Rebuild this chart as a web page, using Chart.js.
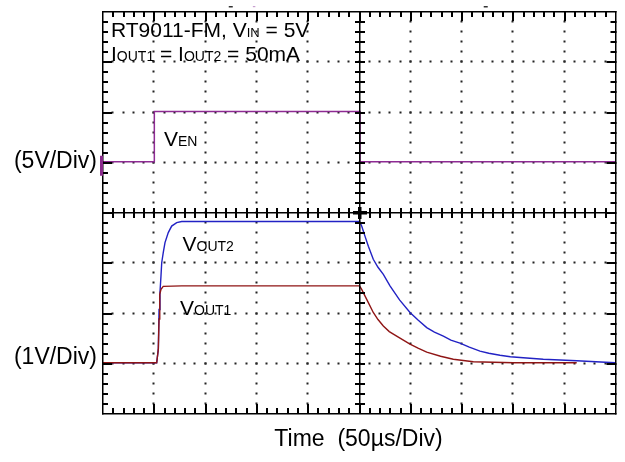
<!DOCTYPE html>
<html>
<head>
<meta charset="utf-8">
<script src="https://cdn.jsdelivr.net/npm/chart.js@4.4.0/dist/chart.umd.min.js"></script>
<style>
html,body{margin:0;padding:0;background:#fff;}
#wrap{width:625px;height:462px;position:relative;}
</style>
</head>
<body>
<div id="wrap"><canvas id="c"></canvas></div>
<script>
// ---- data read from the scope capture ----
// time axis in microseconds (50 us/div, 10 divisions)
const timeMaxUs = 500;
const usPerDiv = 50;
const vertDivs = 8;

// V_EN channel: 5 V/div, ground at division 5
const venTime = [0, 51.0, 51.0, 251.5, 251.5, 500];
const venVolt = [0, 0, 5.0, 5.0, 0, 0];

// V_OUT2 channel: 1 V/div, ground at division 1
const vout2Time = [0, 53.3, 54.9, 55.6, 56.5, 57.5, 58.2, 59.7, 61.4, 64.6, 67.9, 72.8, 77.7,
  251.0, 253.1, 256.3, 259.6, 264.4, 269.0, 274.2, 280.7, 290.0, 300.2, 308.0, 316.5, 324.0, 332.7,
  340.0, 348.9, 358.0, 368.4, 377.0, 387.9, 398.0, 410.6, 430.1, 462.7, 500];
const vout2Volt = [0, 0, 0.27, 1.06, 1.40, 1.73, 1.99, 2.19, 2.39, 2.59, 2.72, 2.79, 2.81,
  2.81, 2.72, 2.52, 2.32, 2.06, 1.90, 1.76, 1.53, 1.25, 1.00, 0.85, 0.70, 0.61, 0.53,
  0.45, 0.39, 0.31, 0.23, 0.19, 0.15, 0.12, 0.10, 0.07, 0.04, 0.0];

// V_OUT1 channel: 1 V/div, ground at division 1
const vout1Time = [0, 53.3, 54.9, 55.6, 56.1, 56.5, 57.5, 59.7, 77.7,
  251.0, 253.1, 258.0, 264.4, 269.0, 274.2, 280.0, 287.2, 300.2, 308.0, 316.5, 330.0, 342.4, 361.9, 400.9, 462.7];
const vout1Volt = [0, 0, 0.27, 0.87, 1.26, 1.36, 1.46, 1.52, 1.53,
  1.53, 1.46, 1.26, 1.00, 0.86, 0.73, 0.62, 0.53, 0.37, 0.29, 0.21, 0.13, 0.07, 0.02, 0.0, 0.0];

const venVoltsPerDiv = 5, venGroundDiv = 5;
const voutVoltsPerDiv = 1, voutGroundDiv = 1;

const yTickLabels = {5: '(5V/Div)', 1.1: '(1V/Div)'};
const xTitle = 'Time  (50\u00B5s/Div)';

// ---- build datasets ----
const toPts = (ts, vs, perDiv, gnd) => ts.map((t, i) => ({x: t, y: vs[i] / perDiv + gnd}));

const FONT = '"Liberation Sans", Arial, Helvetica, sans-serif';

const graticule = {
  id: 'graticule',
  beforeDatasetsDraw(chart) {
    const {ctx, chartArea: a, scales: {x, y}} = chart;
    ctx.save();
    const px = v => x.getPixelForValue(v);
    const py = v => y.getPixelForValue(v);
    const hx = timeMaxUs / usPerDiv, minor = 5;
    // dotted grid
    ctx.fillStyle = '#222';
    for (let i = 1; i < hx; i++) {
      if (i === hx / 2) continue;
      const X = Math.round(px(i * usPerDiv));
      for (let k = 1; k < vertDivs * minor; k++) {
        const Y = Math.round(py(k / minor));
        ctx.fillRect(X - 0.5, Y - 0.5, 2, 2);
      }
    }
    for (let j = 1; j < vertDivs; j++) {
      if (j === vertDivs / 2) continue;
      const Y = Math.round(py(j));
      for (let k = 1; k < hx * minor; k++) {
        const X = Math.round(px(k * usPerDiv / minor));
        ctx.fillRect(X - 0.5, Y - 0.5, 2, 2);
      }
    }
    // small scope markers above the frame
    ctx.fillStyle = '#333';
    ctx.fillRect(px(125.5) - 2, a.top - 5, 4, 1.5);
    ctx.fillRect(px(374) - 2, a.top - 5, 4, 1.5);
    ctx.fillStyle = '#c8a0d0';
    ctx.fillRect(px(148) - 1, a.top - 5, 2.5, 1.2);
    ctx.restore();
  },
  afterDraw(chart) {
    const {ctx, chartArea: a, scales: {x, y}} = chart;
    ctx.save();
    const px = v => x.getPixelForValue(v);
    const py = v => y.getPixelForValue(v);
    const minor = 5;
    const nx = (timeMaxUs / usPerDiv) * minor, ny = vertDivs * minor;
    const left = Math.round(a.left), right = Math.round(a.right);
    const top = Math.round(a.top), bottom = Math.round(a.bottom);
    const cx = Math.round(px(timeMaxUs / 2));
    const cy = Math.round(py(vertDivs / 2));
    ctx.fillStyle = '#000';
    // frame and centre cross-hair
    ctx.fillRect(left, top, right - left + 1.5, 1.5);
    ctx.fillRect(left, bottom, right - left + 1.5, 1.5);
    ctx.fillRect(left, top, 1.5, bottom - top + 1.5);
    ctx.fillRect(right, top, 1.5, bottom - top + 1.5);
    ctx.fillRect(cx, top, 1.5, bottom - top);
    ctx.fillRect(left, cy, right - left, 1.5);
    // ticks every 1/5 division on edges and centre lines
    for (let k = 1; k < nx; k++) {
      const X = Math.round(px(k * usPerDiv / minor));
      const len = (k % minor === 0) ? 10 : 6;
      ctx.fillRect(X, top, 2, len);
      ctx.fillRect(X, bottom - len + 1, 2, len);
      ctx.fillRect(X, cy - 4, 2, 10);
    }
    for (let k = 1; k < ny; k++) {
      const Y = Math.round(py(k / minor));
      const len = (k % minor === 0) ? 10 : 6;
      ctx.fillRect(left, Y, len, 2);
      ctx.fillRect(right - len + 1.5, Y, len, 2);
      ctx.fillRect(cx - 4, Y, 10, 2);
    }
    // bold centre cross
    ctx.fillRect(cx - 6, cy - 1, 14, 3.5);
    ctx.fillRect(cx - 1, cy - 5, 3.5, 12);
    // channel ground marker for V_EN
    ctx.fillStyle = '#8a2a8c';
    const gy = py(venGroundDiv);
    ctx.fillRect(a.left - 2, gy - 6, 3, 20);
    ctx.restore();
  },
  afterDatasetsDraw(chart) {
    const {ctx, chartArea: a} = chart;
    ctx.save();
    ctx.fillStyle = '#000';
    ctx.textBaseline = 'alphabetic';
    ctx.textAlign = 'left';
    const rich = (x, y, parts) => {
      for (const [t, s] of parts) {
        ctx.font = s + 'px ' + FONT;
        ctx.fillText(t, x, y);
        x += ctx.measureText(t).width;
      }
    };
    const L = a.left, T = a.top;
    rich(L + 9, T + 26, [['RT9011-FM, V', 21], ['IN', 13], [' = 5V', 21]]);
    rich(L + 9, T + 50, [['I', 21], ['OUT1', 14], [' = I', 21], ['OUT2', 14], [' = 50mA', 21]]);
    rich(L + 62, T + 135, [['V', 21], ['EN', 14]]);
    rich(L + 80.5, T + 240, [['V', 21], ['OUT2', 14]]);
    rich(L + 78, T + 304, [['V', 21], ['OUT1', 14]]);
    ctx.restore();
  }
};

new Chart(document.getElementById('c'), {
  type: 'line',
  data: {
    datasets: [
      {label: 'VEN', data: toPts(venTime, venVolt, venVoltsPerDiv, venGroundDiv),
        borderColor: '#8e2b93', borderWidth: 1.5},
      {label: 'VOUT1', data: toPts(vout1Time, vout1Volt, voutVoltsPerDiv, voutGroundDiv),
        borderColor: '#8f1515', borderWidth: 1.4},
      {label: 'VOUT2', data: toPts(vout2Time, vout2Volt, voutVoltsPerDiv, voutGroundDiv),
        borderColor: '#2222c4', borderWidth: 1.4}
    ]
  },
  options: {
    responsive: true,
    maintainAspectRatio: false,
    animation: false,
    devicePixelRatio: 1,
    layout: {padding: {top: 11, right: 10, left: 0, bottom: 0}},
    elements: {point: {radius: 0, hoverRadius: 0}, line: {tension: 0}},
    plugins: {legend: {display: false}, tooltip: {enabled: false}},
    scales: {
      x: {
        type: 'linear', min: 0, max: timeMaxUs,
        grid: {display: false, drawTicks: false}, border: {display: false},
        ticks: {display: false},
        title: {display: true, text: xTitle, color: '#000',
          font: {family: FONT, size: 23}, padding: {top: 0, bottom: 9}},
        afterFit(s) { s.height = 49; s.paddingLeft = 0; s.paddingRight = 0; }
      },
      y: {
        type: 'linear', min: 0, max: vertDivs,
        grid: {display: false, drawTicks: false}, border: {display: false},
        afterBuildTicks(s) { s.ticks = Object.keys(yTickLabels).map(v => ({value: +v})); },
        ticks: {color: '#000', font: {family: FONT, size: 23}, padding: 5,
          callback: v => yTickLabels[v] || ''},
        afterFit(s) { s.width = 102; s.paddingTop = 0; s.paddingBottom = 0; }
      }
    }
  },
  plugins: [graticule]
});
</script>
</body>
</html>
